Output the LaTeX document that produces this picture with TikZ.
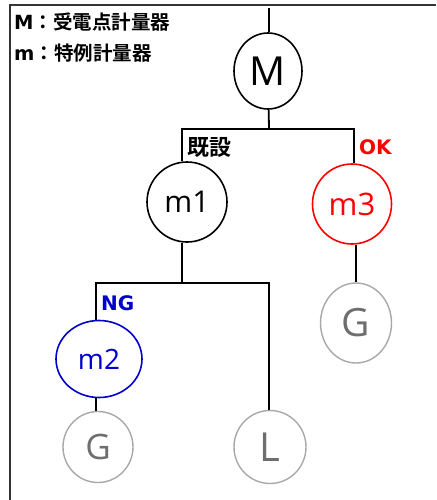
\documentclass[tikz,border=0pt]{standalone}
\usepackage{fontspec}
\setmainfont{Open Sans}
\newfontfamily\jpbold{Noto Sans CJK JP Bold}
\newfontfamily\latbold{DejaVu Sans Bold}
\usepackage{tikz}
\usepackage{xcolor}
\usetikzlibrary{shapes.geometric}

\definecolor{okred}{HTML}{FF0000}
\definecolor{ngblue}{HTML}{0000CC}
\definecolor{gencircle}{HTML}{A8A8A8}
\definecolor{gentext}{HTML}{6E6E6E}

\begin{document}
\begin{tikzpicture}[x=1pt,y=-1pt,
    meter/.style={draw,ellipse,line width=1.6pt,inner sep=0pt},
    unit/.style={meter,draw=gencircle,text=gentext,line width=1.4pt},
    wire/.style={line width=1.8pt},
    legend/.style={anchor=west,inner sep=0pt,font=\jpbold\fontsize{19.5}{24}\selectfont},
    tag/.style={anchor=west,inner sep=0pt,font=\latbold\fontsize{20}{22}\selectfont}]
    \useasboundingbox (0,0) rectangle (436,500);
    \draw[line width=2pt,black!80] (10,500) -- (10,5) -- (436,5);
    \node[legend] at (14,22) (legM) {{\latbold M}：受電点計量器};
    \node[legend] at (14,53) (legm) {{\latbold m}：特例計量器};
    \node[meter,minimum width=68pt,minimum height=76pt,font=\fontsize{40}{40}\selectfont] at (268,71) (M) {M};
    \node[meter,minimum width=80pt,minimum height=80pt,font=\fontsize{30}{30}\selectfont] at (187,202) (m1) {m1};
    \node[meter,draw=okred,text=okred,minimum width=79pt,minimum height=80pt,font=\fontsize{31}{31}\selectfont] at (352,204) (m3) {m3};
    \node[meter,draw=ngblue,text=ngblue,minimum width=86pt,minimum height=77pt,font=\fontsize{28}{28}\selectfont] at (99,359) (m2) {m2};
    \node[unit,minimum width=70pt,minimum height=71pt,font=\fontsize{35}{35}\selectfont] at (98,447) (genA) {G};
    \node[unit,minimum width=72pt,minimum height=73pt,font=\fontsize{40}{40}\selectfont] at (270,447) (load) {L};
    \node[unit,minimum width=71pt,minimum height=80pt,font=\fontsize{39}{39}\selectfont] at (356,323) (genB) {G};
    \node[tag,font=\jpbold\fontsize{22}{24}\selectfont] at (187,147) (old) {既設};
    \node[tag,text=okred] at (359,147) (ok) {OK};
    \node[tag,text=ngblue] at (101,303) (ng) {NG};
    \coordinate (feed) at (269,8);
    \coordinate (bus1) at (269,129);
    \coordinate (bus1l) at (182,129);
    \coordinate (bus1r) at (354,129);
    \coordinate (bus2) at (182,283);
    \coordinate (bus2l) at (96,283);
    \coordinate (bus2r) at (269,283);
    \draw[wire] (feed) -- (feed |- M.north);
    \draw[wire] (M) -- (bus1);
    \draw[wire] (m1.north -| bus1l) -- (bus1l) -- (bus1r) -- (m3.north -| bus1r);
    \draw[wire] (m1.south -| bus2) -- (bus2);
    \draw[wire] (m2.north -| bus2l) -- (bus2l) -- (bus2r) -- (load.north -| bus2r);
    \draw[wire] (m2.south -| bus2l) -- (genA.north -| bus2l);
    \draw[wire] (m3.south -| genB) -- (genB);
\end{tikzpicture}
\end{document}
